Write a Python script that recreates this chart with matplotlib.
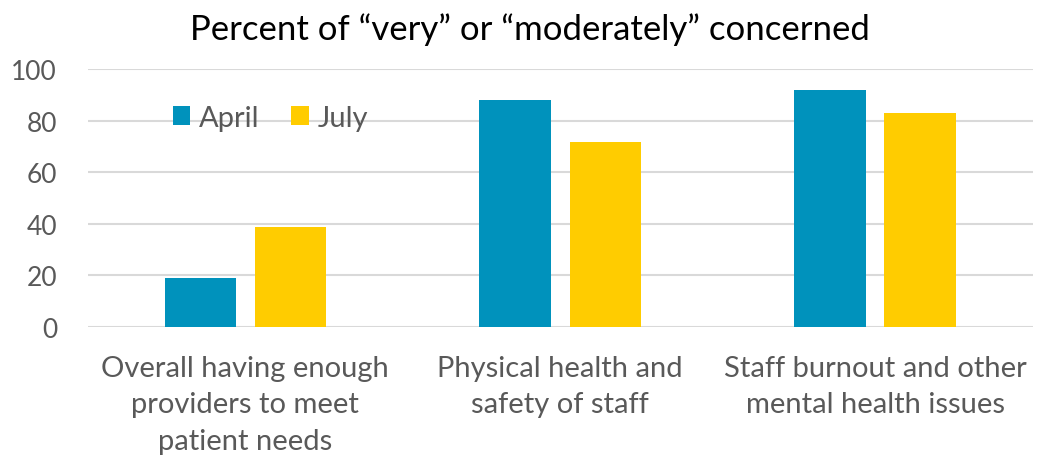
import matplotlib.pyplot as plt
import numpy as np

plt.rcParams['font.family'] = ['Lato', 'DejaVu Sans']

categories = ['Overall having enough\nproviders to meet\npatient needs',
              'Physical health and\nsafety of staff',
              'Staff burnout and other\nmental health issues']
april = [19, 88, 92]
july = [39, 72, 83]
yticks = [0, 20, 40, 60, 80, 100]

gray = '#595959'
fig = plt.figure(figsize=(10.44, 4.6), dpi=100)
ax = fig.add_axes([0.084, 0.287, 0.905, 0.56])

x = np.arange(len(categories))
w = 0.226
ax.bar(x - 0.143, april, w, color='#0092BC', label='April', zorder=3)
ax.bar(x + 0.143, july, w, color='#FFCC00', label='July', zorder=3)

ax.set_xlim(-0.5, 2.5)
ax.set_ylim(0, 100)
ax.set_yticks(yticks)
ax.set_xticks(x)
ax.set_xticklabels(categories, fontsize=21, color=gray, linespacing=1.5)
ax.tick_params(axis='y', labelsize=19, labelcolor=gray, length=0, pad=22)
ax.tick_params(axis='x', length=0, pad=20)
ax.grid(axis='y', color='#d9d9d9', linewidth=1.5, zorder=0)
for s in ax.spines.values():
    s.set_visible(False)

fig.text(0.508, 0.935, 'Percent of \u201cvery\u201d or \u201cmoderately\u201d concerned',
         fontsize=25, color='black', ha='center', va='center')
ax.legend(loc='upper left', bbox_to_anchor=(0.062, 0.965), ncol=2, frameon=False,
          fontsize=21, labelcolor=gray, handlelength=0.6, handleheight=0.6,
          handletextpad=0.3, columnspacing=1.1)

fig.savefig('out.png')
